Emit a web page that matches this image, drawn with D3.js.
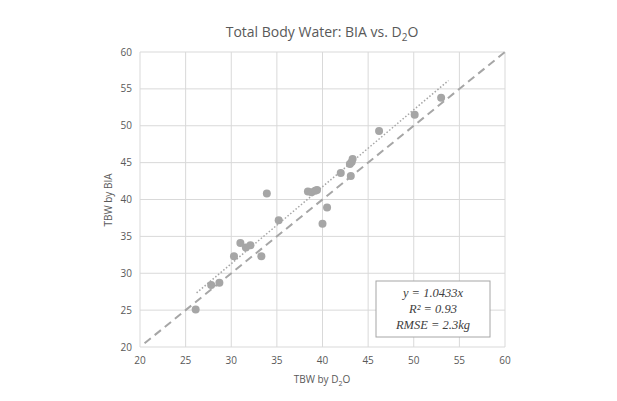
<!DOCTYPE html><html><head><meta charset="utf-8">
<script src="https://cdn.jsdelivr.net/npm/d3@7"></script>
<style>body{margin:0;background:#fff}text{font-family:"Open Sans","Liberation Sans",sans-serif}text.lgt{font-family:"Liberation Serif","DejaVu Serif",serif}</style></head><body>
<svg id="c" width="617" height="401"></svg>
<script>
const d2o=[26.1,27.8,28.7,30.3,31.0,31.6,32.1,33.3,33.9,35.2,38.4,38.8,39.2,39.4,40.0,40.5,42.0,43.0,43.2,43.3,43.1,46.2,50.1,53.0];
const bia=[25.1,28.4,28.7,32.3,34.1,33.5,33.8,32.3,40.8,37.2,41.1,41.0,41.2,41.3,36.7,38.9,43.6,44.8,45.1,45.5,43.2,49.3,51.5,53.8];
const xTicks=[20,25,30,35,40,45,50,55,60];
const yTicks=[20,25,30,35,40,45,50,55,60];
const slope=1.0433;
const svg=d3.select("#c");
const x=d3.scaleLinear().domain([20,60]).range([140,505]);
const y=d3.scaleLinear().domain([20,60]).range([347,52]);
const g=svg.append("g");
g.selectAll(".vx").data(xTicks).join("line").attr("x1",d=>x(d)).attr("x2",d=>x(d)).attr("y1",y(20)).attr("y2",y(60)).attr("stroke","#d9d9d9");
g.selectAll(".hy").data(yTicks).join("line").attr("y1",d=>y(d)).attr("y2",d=>y(d)).attr("x1",x(20)).attr("x2",x(60)).attr("stroke","#d9d9d9");
g.selectAll(".xt").data(xTicks).join("text").attr("x",d=>x(d)).attr("y",y(20)+17).attr("text-anchor","middle").attr("font-size",10).attr("fill","#595959").text(d=>d);
g.selectAll(".yt").data(yTicks).join("text").attr("x",x(20)-8).attr("y",d=>y(d)+3.5).attr("text-anchor","end").attr("font-size",10).attr("fill","#595959").text(d=>d);
svg.append("line").attr("x1",x(20.5)).attr("y1",y(20.5)).attr("x2",x(60)).attr("y2",y(60)).attr("stroke","#a6a6a6").attr("stroke-width",2).attr("stroke-dasharray","8,5");
svg.append("line").attr("x1",x(26.2)).attr("y1",y(26.2*slope)).attr("x2",x(53.8)).attr("y2",y(53.8*slope)).attr("stroke","#a6a6a6").attr("stroke-width",1.5).attr("stroke-dasharray","1.5,2");
svg.selectAll("circle").data(d2o).join("circle").attr("cx",d=>x(d)).attr("cy",(d,i)=>y(bia[i])).attr("r",4).attr("fill","#a6a6a6");
svg.append("text").attr("x",322).attr("y",37).attr("text-anchor","middle").attr("font-size",14).attr("fill","#595959").html('Total Body Water: BIA vs. D<tspan font-size="10" dy="4">2</tspan><tspan dy="-4">O</tspan>');
svg.append("text").attr("x",322).attr("y",383).attr("text-anchor","middle").attr("font-size",10).attr("fill","#595959").html('TBW by D<tspan font-size="7" dy="3">2</tspan><tspan dy="-3">O</tspan>');
svg.append("text").attr("transform","translate(112,200) rotate(-90)").attr("text-anchor","middle").attr("font-size",10).attr("fill","#595959").text("TBW by BIA");
svg.append("rect").attr("x",376).attr("y",281).attr("width",114).attr("height",56).attr("fill","#fff").attr("stroke","#a6a6a6");
const lg=["y = 1.0433x","R² = 0.93","RMSE = 2.3kg"];
svg.selectAll(".lg").data(lg).join("text").attr("class","lgt").attr("x",433).attr("y",(d,i)=>297+i*16).attr("text-anchor","middle").attr("font-size",12.5).attr("font-style","italic").attr("fill","#404040").text(d=>d);
</script></body></html>
